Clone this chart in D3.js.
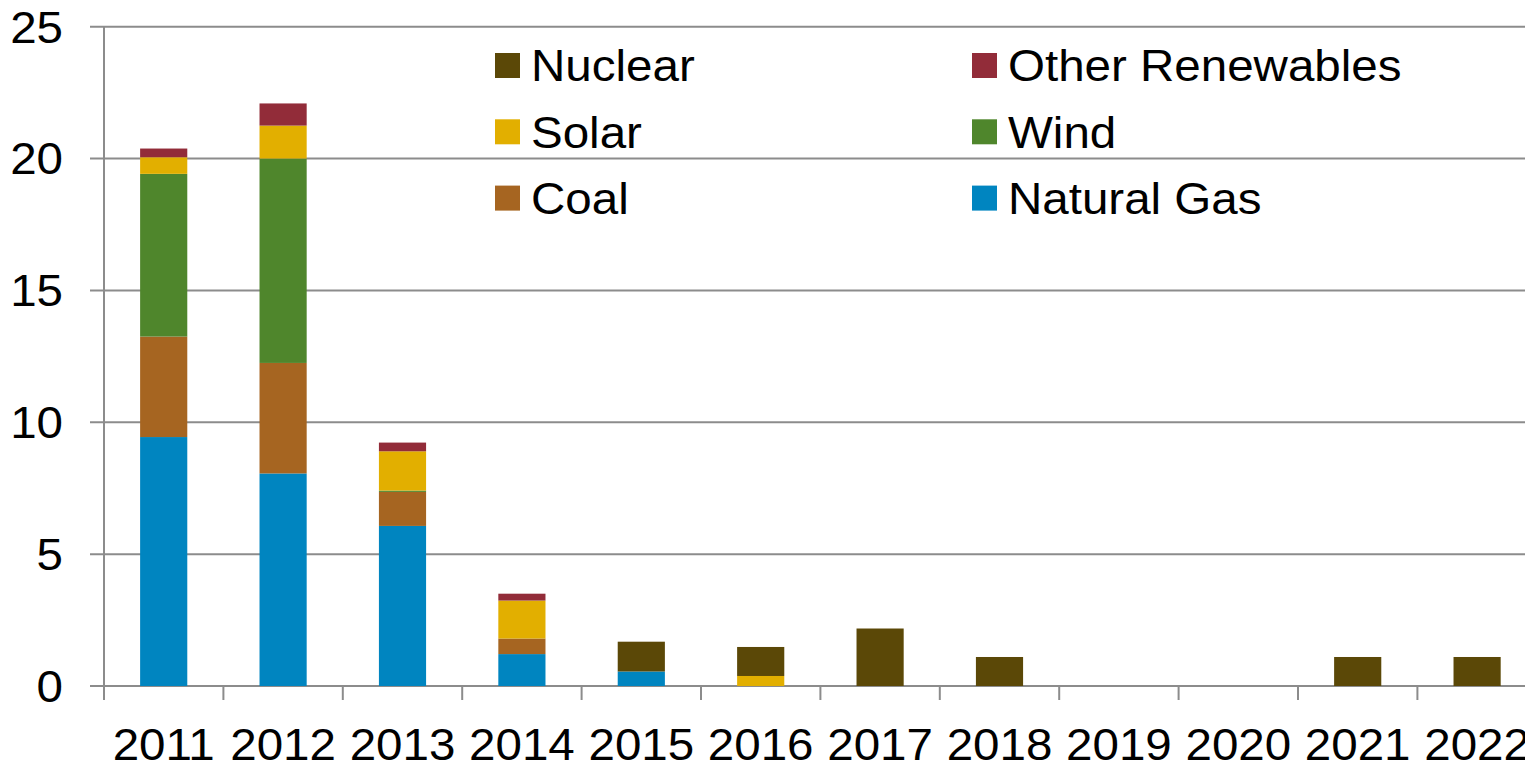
<!DOCTYPE html>
<html>
<head>
<meta charset="utf-8">
<script src="https://cdn.jsdelivr.net/npm/d3@7"></script>
<style>
  body { margin: 0; background: #fff; }
  svg { display: block; }
  text { font-family: "Liberation Sans", Arial, sans-serif; fill: #000; }
</style>
</head>
<body>
<svg id="chart" width="1525" height="766"></svg>
<script>
const years = ['2011', '2012', '2013', '2014', '2015', '2016', '2017', '2018', '2019', '2020', '2021', '2022']

// stacked bottom -> top
const naturalGas = [9.44, 8.06, 6.07, 1.21, 0.55, 0, 0, 0, 0, 0, 0, 0]
const coal       = [3.81, 4.19, 1.29, 0.59, 0, 0, 0, 0, 0, 0, 0, 0]
const wind       = [6.17, 7.75, 0.05, 0, 0, 0, 0, 0, 0, 0, 0, 0]
const solar      = [0.63, 1.25, 1.49, 1.44, 0, 0.38, 0, 0, 0, 0, 0, 0]
const otherRen   = [0.33, 0.84, 0.33, 0.26, 0, 0, 0, 0, 0, 0, 0, 0]
const nuclear    = [0, 0, 0, 0, 1.13, 1.1, 2.18, 1.1, 0, 0, 1.1, 1.1]

const yTicks = [0, 5, 10, 15, 20, 25]

const seriesNames = ['Natural Gas', 'Coal', 'Wind', 'Solar', 'Other Renewables', 'Nuclear']
const seriesValues = [naturalGas, coal, wind, solar, otherRen, nuclear]
const colors = ['#0085c0', '#a66521', '#4f862c', '#e2af00', '#922c39', '#5b4807']
// legend reads row by row, two columns
const legendOrder = ['Nuclear', 'Other Renewables', 'Solar', 'Wind', 'Coal', 'Natural Gas']

let svg = d3.select('#chart')
let mLeft = 104, mTop = 26.7, mBottom = 686, step = 119.4
let sx = 1.08   // text in the original is a bit wider than Liberation Sans

let x = d3.scaleBand().domain(years).range([mLeft, mLeft + step * years.length]).padding(0)
let y = d3.scaleLinear().domain([0, 25]).range([mBottom, mTop])
let color = d3.scaleOrdinal().domain(seriesNames).range(colors)

let rows = years.map((yr, i) => {
    let r = {year: yr}
    seriesNames.forEach((s, j) => r[s] = seriesValues[j][i])
    return r
})
let stacked = d3.stack().keys(seriesNames)(rows)

// grid
svg.append('g').selectAll('line')
    .data(yTicks)
    .join('line')
    .attr('x1', mLeft - 14)
    .attr('x2', 1525)
    .attr('y1', d => y(d))
    .attr('y2', d => y(d))
    .style('stroke', '#8c8c8c')
    .style('stroke-width', 2)

// y axis line
svg.append('line')
    .attr('x1', mLeft).attr('x2', mLeft)
    .attr('y1', mTop).attr('y2', mBottom + 14)
    .style('stroke', '#8c8c8c')
    .style('stroke-width', 2)

// x ticks at band edges
svg.append('g').selectAll('line')
    .data(years.slice(1))
    .join('line')
    .attr('x1', d => x(d)).attr('x2', d => x(d))
    .attr('y1', mBottom).attr('y2', mBottom + 14)
    .style('stroke', '#8c8c8c')
    .style('stroke-width', 2)

// y labels
svg.append('g').selectAll('text')
    .data(yTicks)
    .join('text')
    .attr('transform', d => `translate(63, ${y(d)}) scale(${sx}, 1)`)
    .attr('dy', '0.36em')
    .attr('text-anchor', 'end')
    .style('font-size', '44px')
    .text(d => d)

// x labels
svg.append('g').selectAll('text')
    .data(years)
    .join('text')
    .attr('transform', d => `translate(${x(d) + x.bandwidth() / 2}, 760) scale(${sx}, 1)`)
    .attr('text-anchor', 'middle')
    .style('font-size', '44px')
    .text(d => d)

// bars
let barW = x.bandwidth() * 0.395
svg.append('g').selectAll('g')
    .data(stacked)
    .join('g')
    .style('fill', d => color(d.key))
    .selectAll('rect')
    .data(d => d.filter(p => p[1] - p[0] > 0))
    .join('rect')
    .attr('x', p => x(p.data.year) + (x.bandwidth() - barW) / 2)
    .attr('y', p => y(p[1]))
    .attr('width', barW)
    .attr('height', p => y(p[0]) - y(p[1]))

// legend
let lg = svg.append('g').selectAll('g')
    .data(legendOrder)
    .join('g')
    .attr('transform', (d, i) => `translate(${i % 2 ? 972 : 495}, ${65.5 + Math.floor(i / 2) * 66.3})`)
lg.append('rect')
    .attr('x', 0).attr('y', -12.5)
    .attr('width', 25).attr('height', 25)
    .style('fill', d => color(d))
lg.append('text')
    .attr('transform', `translate(36, 0) scale(${sx}, 1)`)
    .attr('dy', '0.36em')
    .style('font-size', '44px')
    .text(d => d)
</script>
</body>
</html>
